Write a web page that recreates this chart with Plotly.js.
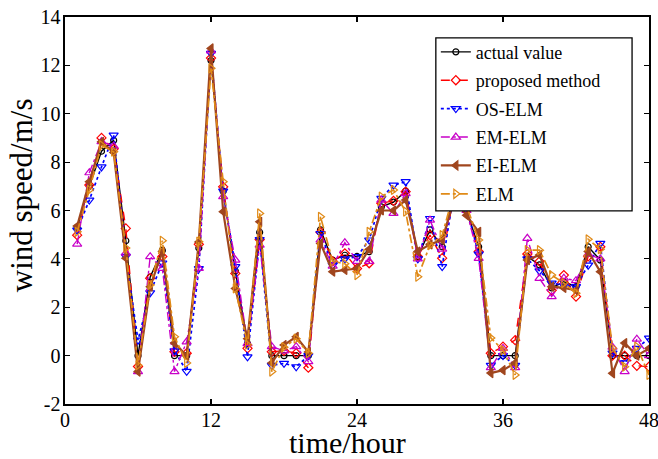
<!DOCTYPE html>
<html>
<head>
<meta charset="utf-8">
<script src="https://cdn.plot.ly/plotly-3.0.1.min.js"></script>
<style>
  html, body { margin: 0; padding: 0; background: #fff; }
  #chart { width: 658px; height: 459px; }
</style>
</head>
<body>
<div id="chart"></div>
<script>
// Hourly wind speed (m/s) over 48 hours: measured value and five forecasting methods
const hours = Array.from({length: 48}, (_, i) => i + 1);

const actualValue = [5.3, 7.0, 8.45, 8.9, 4.75, 0, 3.25, 4.35, 0, 0, 4.45, 12.2, 6.8, 3.5, 0.5, 5.1,
  0, 0, 0, 0, 5.2, 3.95, 4.15, 4.1, 4.3, 6.15, 6.35, 6.8, 4.1, 5.2, 4.5, 6.8,
  6.0, 4.5, 0, 0, 0, 4.1, 3.75, 2.8, 3.05, 2.85, 4.5, 3.95, 0, 0, 0, 0];

const proposedMethod = [4.98, 7.05, 9.0, 8.55, 5.26, -0.45, 3.2, 4.1, 0.16, 0.1, 4.6, 12.3, 6.98, 3.4, 0.3, 4.8,
  0.16, 0.2, 0.1, -0.5, 5.1, 3.9, 4.23, 3.6, 3.82, 6.3, 6.4, 6.78, 4.1, 4.98, 4.03, 6.7,
  6.0, 4.3, 0.1, 0.37, 0.64, 4.2, 3.9, 2.7, 3.33, 2.44, 4.1, 4.5, 0, 0, -0.42, -0.46];

const osElm = [5.19, 6.43, 7.8, 9.12, 4.1, 0.64, 2.6, 3.83, 0.2, -0.65, 3.6, 12.5, 6.8, 3.68, -0.05, 4.8,
  -0.4, -0.32, -0.46, 0, 5.05, 3.74, 4.0, 4.09, 4.78, 6.5, 7.05, 7.19, 4.0, 5.67, 3.68, 6.9,
  6.1, 4.2, -0.4, 0, -0.4, 4.0, 3.5, 3.0, 2.9, 2.85, 3.74, 4.64, 0.1, -0.3, 0.3, 0.72];

const emElm = [4.61, 7.56, 8.85, 8.66, 4.24, -0.66, 4.09, 3.61, -0.66, 0.57, 3.61, 12.6, 6.57, 3.95, 0.5, 4.57,
  0.37, 0.2, 0.37, -0.25, 4.78, 3.7, 4.67, 3.9, 3.9, 6.43, 5.88, 6.7, 4.0, 5.6, 4.4, 6.7,
  6.0, 4.02, -0.5, 0.3, -0.5, 4.85, 3.19, 2.44, 3.2, 3.1, 4.2, 4.0, 0.35, -0.66, 0.68, 0];

const eiElm = [5.36, 7.19, 8.84, 8.4, 4.03, -0.66, 2.85, 4.3, 0.52, 0, 4.7, 12.7, 5.95, 2.78, 0.7, 5.53,
  -0.3, 0.44, 0.78, 0.15, 4.64, 3.47, 3.54, 3.6, 4.4, 6.0, 6.0, 6.43, 4.3, 4.6, 4.78, 6.5,
  5.8, 5.12, -0.72, -0.6, -0.3, 3.95, 4.16, 2.85, 2.8, 2.7, 4.3, 3.47, -0.73, 0.52, 0, 0.3];

const elm = [5.12, 6.85, 8.7, 8.43, 4.45, -0.4, 2.92, 4.75, 0.78, -0.3, 4.71, 11.88, 7.19, 2.78, 0.45, 5.88,
  -0.66, 0.35, 0.7, 0.1, 5.74, 3.9, 3.8, 3.33, 5.12, 6.57, 6.85, 5.95, 3.26, 4.57, 4.98, 6.8,
  6.2, 4.78, 0.73, 0.23, -0.8, 4.36, 4.36, 3.33, 3.0, 2.58, 4.81, 4.4, 0.31, -0.46, 0.37, -0.8];

const seriesNames = ['actual value', 'proposed method', 'OS-ELM', 'EM-ELM', 'EI-ELM', 'ELM'];
const xTicks = [0, 12, 24, 36, 48];
const yTicks = [-2, 0, 2, 4, 6, 8, 10, 12, 14];
const xLabel = 'time/hour';
const yLabel = 'wind speed/m/s';

const serif = '"Liberation Serif", "Times New Roman", serif';

function series(name, y, color, dash, symbol, width, msize) {
  return {
    x: hours, y: y, name: name, type: 'scatter', mode: 'lines+markers',
    legendgroup: name,
    line: {color: color, dash: dash, width: width},
    marker: {symbol: symbol, size: msize, color: color, line: {color: color, width: 1.2}}
  };
}

// draw order: later traces sit on top
const traces = [
  series(seriesNames[0], actualValue, '#000000', 'solid', 'circle-open', 1.4, 6),
  series(seriesNames[1], proposedMethod, '#ff0000', 'dash', 'diamond-open', 1.4, 7),
  series(seriesNames[2], osElm, '#0000ff', 'dot', 'triangle-down-open', 1.7, 8),
  series(seriesNames[3], emElm, '#c800c8', 'dashdot', 'triangle-up-open', 1.4, 8),
  series(seriesNames[4], eiElm, '#a0461e', 'solid', 'triangle-left', 2.2, 8),
  series(seriesNames[5], elm, '#e08a17', 'dashdot', 'triangle-right-open', 1.7, 8)
];

const axisCommon = {
  showgrid: false, zeroline: false, showline: true, linecolor: '#000', linewidth: 1.6,
  mirror: 'ticks', ticks: 'inside', ticklen: 5, tickcolor: '#000', tickwidth: 1.2,
  tickfont: {family: serif, size: 20, color: '#000'},
  ticklabeloverflow: 'allow'
};

const layout = {
  width: 658, height: 459,
  margin: {l: 65, r: 9, t: 17, b: 55},
  paper_bgcolor: '#fff', plot_bgcolor: '#fff',
  showlegend: true,
  legend: {
    x: 0.635, y: 0.957, xanchor: 'left', yanchor: 'top',
    bgcolor: 'rgba(0,0,0,0)', borderwidth: 0,
    font: {family: serif, size: 18, color: '#000'},
    traceorder: 'grouped', tracegroupgap: 2,
    itemwidth: 30
  },
  // framed white panel behind the legend entries
  shapes: [{
    type: 'rect', xref: 'paper', yref: 'paper', layer: 'above',
    x0: 0.635, x1: 0.971, y0: 0.499, y1: 0.946,
    fillcolor: '#fff', line: {color: '#000', width: 1.3}
  }],
  annotations: [
    {text: xLabel, xref: 'paper', yref: 'paper', x: 0.483, y: -0.1,
     xanchor: 'center', yanchor: 'middle', showarrow: false,
     font: {family: serif, size: 30, color: '#000'}},
    {text: yLabel, xref: 'paper', yref: 'paper', x: -0.075, y: 0.54,
     xanchor: 'center', yanchor: 'middle', textangle: -90, showarrow: false,
     font: {family: serif, size: 31, color: '#000'}}
  ],
  xaxis: Object.assign({}, axisCommon, {
    range: [0, 48], tickvals: xTicks, ticktext: xTicks.map(String),
    ticklabelstandoff: -3
  }),
  yaxis: Object.assign({}, axisCommon, {
    range: [-2, 14], tickvals: yTicks, ticktext: yTicks.map(String),
    ticklabelstandoff: -1
  })
};

Plotly.newPlot('chart', traces, layout, {displayModeBar: false, staticPlot: true});
</script>
</body>
</html>
